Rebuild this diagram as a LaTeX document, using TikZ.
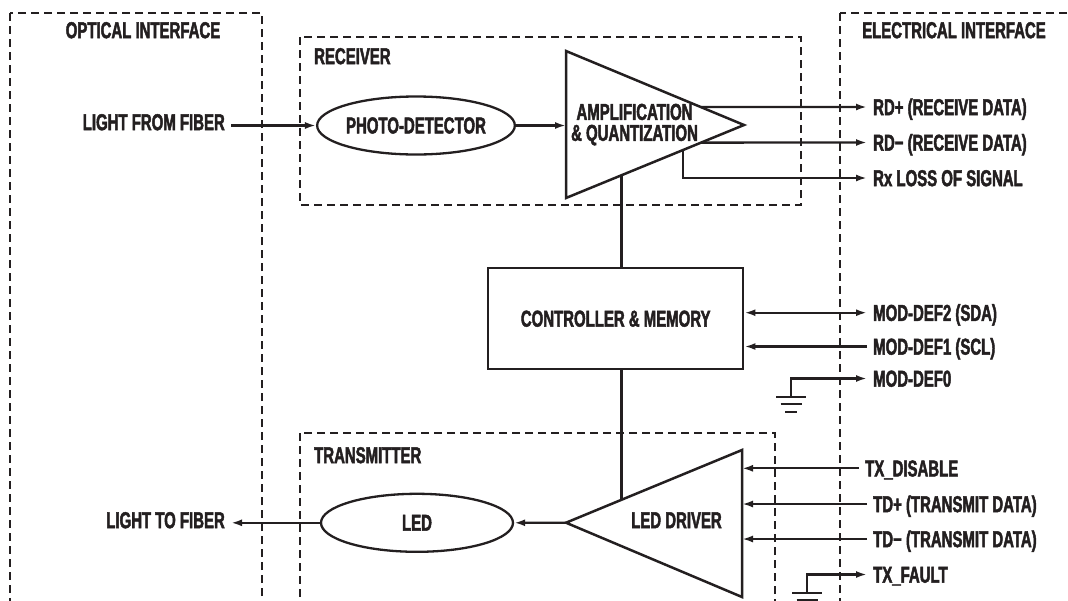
\documentclass[tikz,border=0pt]{standalone}
\usepackage{fontspec}
\setmainfont{Liberation Sans}[FakeStretch=0.65, BoldFont={Liberation Sans Bold}, BoldFeatures={FakeBold=2}]
\usetikzlibrary{arrows.meta,shapes.geometric,positioning,calc}
\definecolor{ink}{RGB}{35,31,32}

\begin{document}
\begin{tikzpicture}
[x=1pt, y=-1pt, font=\fontsize{23}{24}\selectfont\bfseries, color=ink,
% STYLES
% dashed frames round the interfaces, the receiver and the transmitter
dashframe/.style={draw, dash pattern=on 8pt off 5pt, line width=2.2pt},
% frame titles and signal names
title/.style={inner sep=0pt, text height=16.3pt, text depth=0pt},
sig/.style={inner ysep=0pt, inner xsep=6pt, text height=16.3pt, text depth=0pt},
% optical parts and the controller
part/.style={ellipse, draw, line width=2.3pt, minimum width=192pt, minimum height=58pt, inner sep=0pt},
block/.style={rectangle, draw, line width=2.5pt, minimum width=255pt, minimum height=101pt},
ampline/.style={draw, line width=2.5pt, line join=miter},
wire/.style={line width=2.3pt},
arr/.style={wire, -{Latex[length=11pt,width=7pt]}},
dblarr/.style={wire, {Latex[length=11pt,width=7pt]}-{Latex[length=11pt,width=7pt]}},
gnd/.pic={\draw[wire] (-15,0) -- (15,0) (-10.5,7) -- (10.5,7) (-6,15) -- (6,15);}]

\useasboundingbox (0,0) rectangle (1068,600);
\clip (0,0) rectangle (1068,600);

% Frames
\draw[dashframe] (10,13) rectangle (262,640);
\draw[dashframe] (840,13) rectangle (1100,640);
\draw[dashframe] (300,37) rectangle (801,205);
\draw[dashframe] (300,433) rectangle (775,640);

\node[title] (optical) at (143,30) {OPTICAL INTERFACE};
\node[title] (electrical) at (954,30) {ELECTRICAL INTERFACE};
\node[title, anchor=west] (receiver) at (314,56) {RECEIVER};
\node[title, anchor=west] (transmitter) at (314,455) {TRANSMITTER};

% Receiver
\node [part] (pd) at (416,125.5) {PHOTO-DETECTOR};
\coordinate (amp-top) at (566,51);
\coordinate (amp-bot) at (566,198);
\coordinate (amp-tip) at (744,125);
\coordinate (amp-in) at (566,125.5);
\draw[ampline] (amp-top) -- (amp-tip) -- (amp-bot) -- cycle;
\node [title] (amp) at (634.5,111.7) {AMPLIFICATION};
\node [title, below=4.3pt of amp] (amp-q) {\& QUANTIZATION};
\coordinate (rdp-out) at ($(amp-top)!0.758!(amp-tip)$);
\coordinate (rdm-out) at ($(amp-tip)!0.2415!(amp-bot)$);
\coordinate (los-out) at ($(amp-tip)!0.341!(amp-bot)$);
\coordinate (amp-ctl) at ($(amp-tip)!0.689!(amp-bot)$);

\node [sig, anchor=east] (fromfiber) at (231,122) {LIGHT FROM FIBER};

% Controller
\node [block] (ctrl) at (615.7,318.7) {CONTROLLER \& MEMORY};

% Transmitter
\node [part] (led) at (417,522.8) {LED};
\coordinate (drv-tip) at (566,522.7);
\coordinate (drv-top) at (742,450);
\coordinate (drv-bot) at (742,597);
\draw[ampline] (drv-tip) -- (drv-top) -- (drv-bot) -- cycle;
\node [title] (drv) at (676.5,520) {LED DRIVER};
\coordinate (drv-ctl) at ($(drv-tip)!0.315!(drv-top)$);

\node [sig, anchor=east] (tofiber) at (231,520) {LIGHT TO FIBER};

% Electrical interface
\node [sig, anchor=west] (rdp) at (867,107) {RD+ (RECEIVE DATA)};
\node [sig, anchor=west] (rdm) at (867,142.5) {RD\textminus\ (RECEIVE DATA)};
\node [sig, anchor=west] (los) at (867,178) {Rx LOSS OF SIGNAL};
\node [sig, anchor=west] (md2) at (867,312.7) {MOD-DEF2 (SDA)};
\node [sig, anchor=west] (md1) at (867,346.5) {MOD-DEF1 (SCL)};
\node [sig, anchor=west] (md0) at (867,378.5) {MOD-DEF0};
\node [sig, anchor=west] (txd) at (859,468.3) {TX\_DISABLE};
\node [sig, anchor=west] (tdp) at (867,504) {TD+ (TRANSMIT DATA)};
\node [sig, anchor=west] (tdm) at (867,539) {TD\textminus\ (TRANSMIT DATA)};
\node [sig, anchor=west] (txf) at (867,574.5) {TX\_FAULT};

\coordinate (gnd0) at (791,397);
\coordinate (gnd1) at (807,593);
\pic at (gnd0) {gnd};
\pic at (gnd1) {gnd};

%%%%%%%%%%%%%%%%

\path[arr]
(fromfiber.east |- pd.west) edge (pd.west)
(pd.east) edge (amp-in)
(rdp-out) edge (rdp.west)
(rdm-out) edge (rdm.west)
(drv-tip) edge (led.east)
(led.west) edge (tofiber.east |- led.west)
(md1.west) edge (ctrl.east |- md1.west)
(txd.west) edge (drv-top |- txd.west)
(tdp.west) edge (drv-top |- tdp.west)
(tdm.west) edge (drv-top |- tdm.west);

\draw[arr] (los-out) |- (los.west);
\draw[arr] (gnd0) |- (md0.west);
\draw[arr] (gnd1) |- (txf.west);
\draw[dblarr] (ctrl.east |- md2.west) -- (md2.west);

\draw[wire] (amp-ctl) -- (amp-ctl |- ctrl.north);
\draw[wire] (drv-ctl) -- (drv-ctl |- ctrl.south);

\end{tikzpicture}
\end{document}
